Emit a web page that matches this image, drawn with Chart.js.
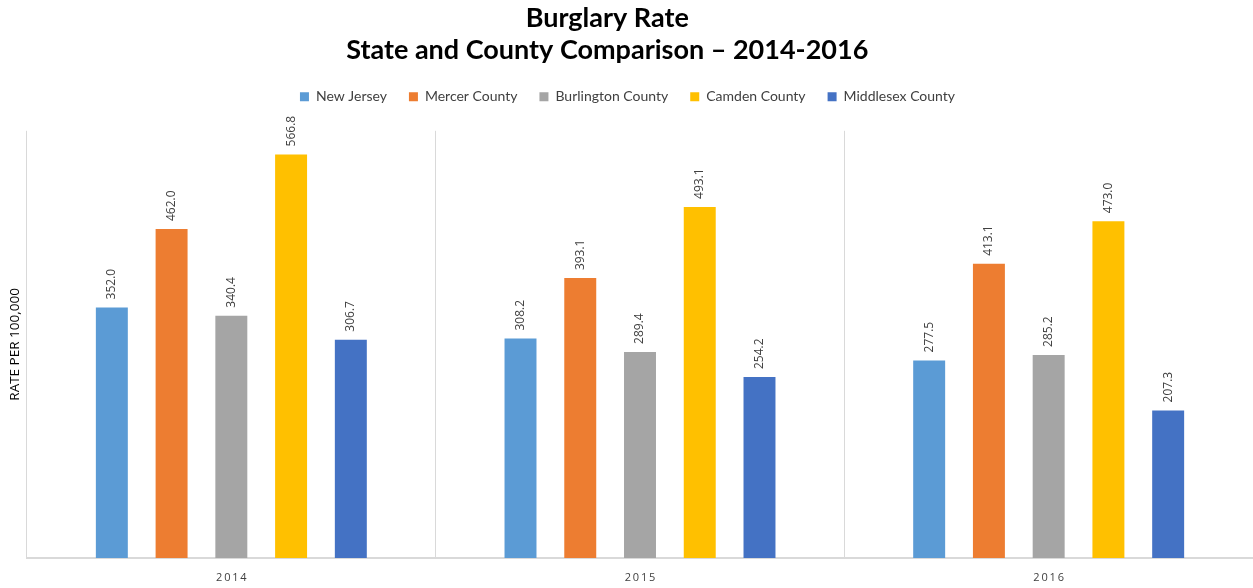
<!DOCTYPE html>
<html>
<head>
<meta charset="utf-8">
<script src="https://cdn.jsdelivr.net/npm/chart.js@4"></script>
<style>
  html, body { margin: 0; padding: 0; background: #fff; overflow: hidden; }
  #wrap { width: 1253px; height: 588px; }
</style>
</head>
<body>
<div id="wrap"><canvas id="burglaryChart"></canvas></div>
<script>
// years on the x axis
const years = ['2014', '2015', '2016'];

// rate per 100,000 for each area
const newJersey = [352.0, 308.2, 277.5];
const mercer = [462.0, 393.1, 413.1];
const burlington = [340.4, 289.4, 285.2];
const camden = [566.8, 493.1, 473.0];
const middlesex = [306.7, 254.2, 207.3];

const seriesNames = ['New Jersey', 'Mercer County', 'Burlington County', 'Camden County', 'Middlesex County'];
const seriesColors = ['#5b9bd5', '#ed7d31', '#a5a5a5', '#ffc000', '#4472c4'];

// draws the rotated value over each bar
const barLabels = {
  id: 'barLabels',
  afterDatasetsDraw(chart) {
    const ctx = chart.ctx;
    ctx.save();
    ctx.font = '12px "Open Sans", sans-serif';
    ctx.fillStyle = '#404040';
    ctx.textAlign = 'left';
    ctx.textBaseline = 'middle';
    chart.data.datasets.forEach((ds, i) => {
      const meta = chart.getDatasetMeta(i);
      meta.data.forEach((bar, j) => {
        ctx.save();
        ctx.translate(bar.x, bar.y - 8);
        ctx.rotate(-Math.PI / 2);
        ctx.fillText(ds.data[j].toFixed(1), 0, 0);
        ctx.restore();
      });
    });
    ctx.restore();
  }
};

// extra room under the legend
const legendGap = {
  id: 'legendGap',
  beforeInit(chart) {
    const fit = chart.legend.fit;
    chart.legend.fit = function () {
      fit.bind(chart.legend)();
      this.height += 17;
    };
  }
};

const allData = [newJersey, mercer, burlington, camden, middlesex];

// trailing en spaces nudge the title a little left, as in the original
const pad = '\u2002\u2002\u2002';

var ctx = document.getElementById('burglaryChart');
var burglaryChart = new Chart(ctx, {
  type: 'bar',
  data: {
    labels: years,
    datasets: seriesNames.map((name, i) => ({
      label: name,
      data: allData[i],
      backgroundColor: seriesColors[i],
      categoryPercentage: 0.731,
      barPercentage: 0.535
    }))
  },
  options: {
    responsive: true,
    maintainAspectRatio: false,
    animation: false,
    layout: { padding: { left: 2, right: 0, top: 0, bottom: 2 } },
    plugins: {
      title: {
        display: true,
        text: ['Burglary Rate' + pad, 'State and County Comparison \u2013 2014-2016' + pad],
        color: '#000',
        font: { family: 'Lato, sans-serif', size: 27, weight: 'bold', lineHeight: 1.2 },
        padding: { top: 2, bottom: 1 }
      },
      legend: {
        display: true,
        position: 'top',
        labels: {
          boxWidth: 9,
          boxHeight: 9,
          color: '#404040',
          font: { family: 'Lato, sans-serif', size: 14 },
          padding: 22
        }
      },
      tooltip: { enabled: false }
    },
    scales: {
      x: {
        grid: { display: true, offset: true, color: '#d9d9d9', drawTicks: false },
        border: { display: true, color: '#d9d9d9', width: 2 },
        ticks: {
          color: '#404040',
          font: { family: '"Open Sans", sans-serif', size: 11 },
          padding: 13,
          callback: function (v) { return years[v].split('').join('\u2009'); }
        },
        afterFit: function (scale) { scale.height = 28; }
      },
      y: {
        min: 0,
        max: 600,
        grid: { display: false },
        border: { display: false },
        ticks: { display: false },
        title: {
          display: true,
          text: 'RATE PER 100,000',
          color: '#000',
          font: { family: '"Open Sans", sans-serif', size: 13.5 },
          padding: { top: 5, bottom: 0 }
        },
        afterFit: function (scale) { scale.width = 25; }
      }
    }
  },
  plugins: [barLabels, legendGap]
});
</script>
</body>
</html>
